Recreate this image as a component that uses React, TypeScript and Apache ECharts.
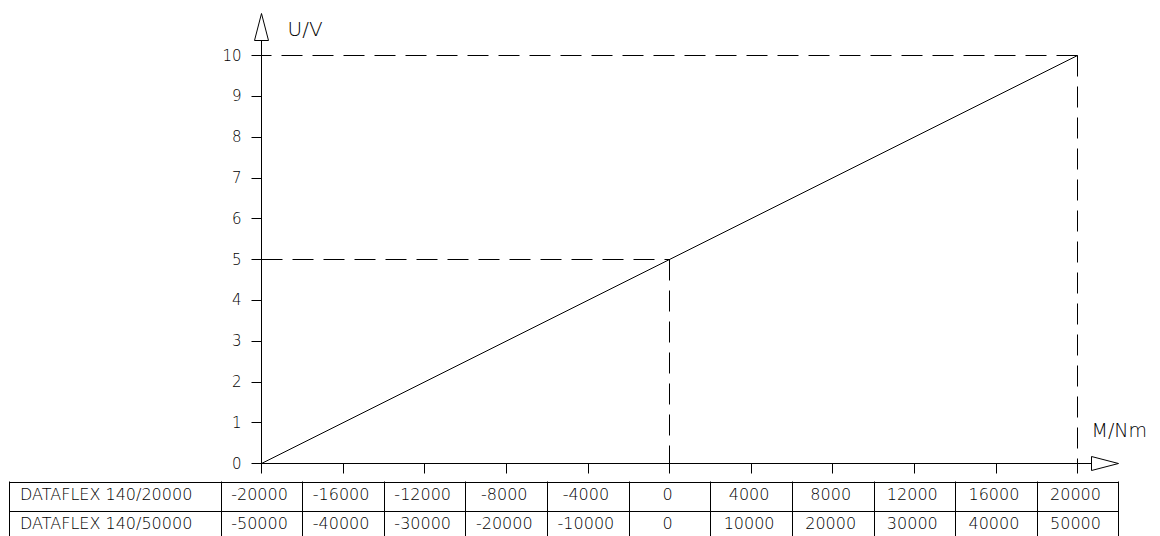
import React, { useEffect, useRef } from 'react';
import * as echarts from 'echarts';

// ---- data ----
const xTicks = [-20000, -16000, -12000, -8000, -4000, 0, 4000, 8000, 12000, 16000, 20000];
const yTicks = [0, 1, 2, 3, 4, 5, 6, 7, 8, 9, 10];
const rowLabels = ['DATAFLEX 140/20000', 'DATAFLEX 140/50000'];
const row1 = ['-20000', '-16000', '-12000', '-8000', '-4000', '0', '4000', '8000', '12000', '16000', '20000'];
const row2 = ['-50000', '-40000', '-30000', '-20000', '-10000', '0', '10000', '20000', '30000', '40000', '50000'];
const linePoints = [[-20000, 0], [20000, 10]];
const guideTop = [[20000, 10], [-20000, 10]];
const guideRight = [[20000, 10], [20000, 0]];
const guideMidH = [[-20000, 5], [0, 5]];
const guideMidV = [[0, 5], [0, 0]];
const yTitle = 'U/V';
const xTitle = 'M/Nm';

const INK = '#000';
const FONT = '"DejaVu Sans", sans-serif';

export default function App() {
  const ref = useRef<HTMLDivElement>(null);
  useEffect(() => {
    document.body.style.margin = '0';
    const el = ref.current!;
    const chart = echarts.init(el, null, { renderer: 'svg' });
    const dash = [21, 10];
    const guide = (data: number[][]) => ({
      type: 'line',
      data,
      symbol: 'none',
      silent: true,
      lineStyle: { color: INK, width: 1, type: dash },
    });
    chart.setOption({
      animation: false,
      grid: { left: 261.5, right: 82.5, top: 55.5, bottom: 72.5 },
      xAxis: {
        type: 'value',
        min: xTicks[0],
        max: xTicks[xTicks.length - 1],
        interval: xTicks[1] - xTicks[0],
        axisLine: { show: true, onZero: false, lineStyle: { color: INK, width: 1 } },
        axisTick: { show: true, length: 10, lineStyle: { color: INK, width: 1 } },
        axisLabel: { show: false },
        splitLine: { show: false },
      },
      yAxis: {
        type: 'value',
        min: yTicks[0],
        max: yTicks[yTicks.length - 1],
        interval: yTicks[1] - yTicks[0],
        axisLine: { show: true, onZero: false, lineStyle: { color: INK, width: 1 } },
        axisTick: { show: true, length: 10, lineStyle: { color: INK, width: 1 } },
        axisLabel: { margin: 20, fontSize: 15, color: INK, fontFamily: FONT, fontWeight: 200 },
        splitLine: { show: false },
      },
      series: [
        guide(guideTop),
        guide(guideRight),
        guide(guideMidH),
        guide(guideMidV),
        {
          type: 'line',
          data: linePoints,
          symbol: 'none',
          silent: true,
          lineStyle: { color: INK, width: 1 },
        },
      ],
    });

    const px = (x: number) => chart.convertToPixel({ xAxisIndex: 0 }, x) as number;
    const py = (y: number) => chart.convertToPixel({ yAxisIndex: 0 }, y) as number;
    const x0 = px(xTicks[0]);
    const x1 = px(xTicks[xTicks.length - 1]);
    const yb = py(yTicks[0]);
    const yt = py(yTicks[yTicks.length - 1]);
    const half = (px(xTicks[1]) - px(xTicks[0])) / 2;

    const stroke = { stroke: INK, lineWidth: 1, fill: 'none' };
    const g: any[] = [];
    // y axis extension & arrow
    g.push({ type: 'line', shape: { x1: x0, y1: yt, x2: x0, y2: yt - 15 }, style: stroke, silent: true });
    g.push({
      type: 'polygon',
      shape: { points: [[x0, yt - 42], [x0 - 7, yt - 15], [x0 + 7, yt - 15]] },
      style: { stroke: INK, lineWidth: 1, fill: '#fff' },
      silent: true,
    });
    // x axis extension & arrow
    g.push({ type: 'line', shape: { x1: x1, y1: yb, x2: x1 + 14, y2: yb }, style: stroke, silent: true });
    g.push({
      type: 'polygon',
      shape: { points: [[x1 + 14, yb - 7], [x1 + 41, yb], [x1 + 14, yb + 7]] },
      style: { stroke: INK, lineWidth: 1, fill: '#fff' },
      silent: true,
    });
    // titles
    g.push({
      type: 'text', x: x0 + 26, y: yt - 27,
      style: { text: yTitle, fill: INK, fontSize: 20, fontFamily: FONT, fontWeight: 200, verticalAlign: 'middle' },
      silent: true,
    });
    g.push({
      type: 'text', x: x1 + 14, y: yb - 34,
      style: { text: xTitle, fill: INK, fontSize: 19, fontFamily: FONT, fontWeight: 200, verticalAlign: 'middle' },
      silent: true,
    });

    // table
    const tLeft = 9;
    const tTop = yb + 18;
    const rowH = 29.5;
    const tRight = x1 + half;
    const tBottom = tTop + rowH * 2;
    for (let r = 0; r <= 2; r++) {
      const y = Math.round(tTop + rowH * r) + 0.5;
      g.push({ type: 'line', shape: { x1: tLeft, y1: y, x2: tRight, y2: y }, style: stroke, silent: true });
    }
    const vxs = [tLeft, ...xTicks.map((v) => px(v) - half), tRight];
    vxs.forEach((vx) => {
      const x = Math.round(vx) + 0.5;
      g.push({ type: 'line', shape: { x1: x, y1: tTop, x2: x, y2: tBottom }, style: stroke, silent: true });
    });
    const rows = [row1, row2];
    rowLabels.forEach((lab, r) => {
      const cy = tTop + rowH * (r + 0.5) - 2;
      g.push({
        type: 'text', x: tLeft + 11, y: cy,
        style: { text: lab, fill: INK, fontSize: 16, fontFamily: FONT, fontWeight: 200, verticalAlign: 'middle', align: 'left' },
        silent: true,
      });
      rows[r].forEach((txt, i) => {
        g.push({
          type: 'text', x: px(xTicks[i]) - 2, y: cy,
          style: { text: txt, fill: INK, fontSize: 16, fontFamily: FONT, fontWeight: 200, verticalAlign: 'middle', align: 'center' },
          silent: true,
        });
      });
    });
    chart.setOption({ graphic: g });

    return () => chart.dispose();
  }, []);
  return <div ref={ref} style={{ width: 1160, height: 536 }} />;
}
